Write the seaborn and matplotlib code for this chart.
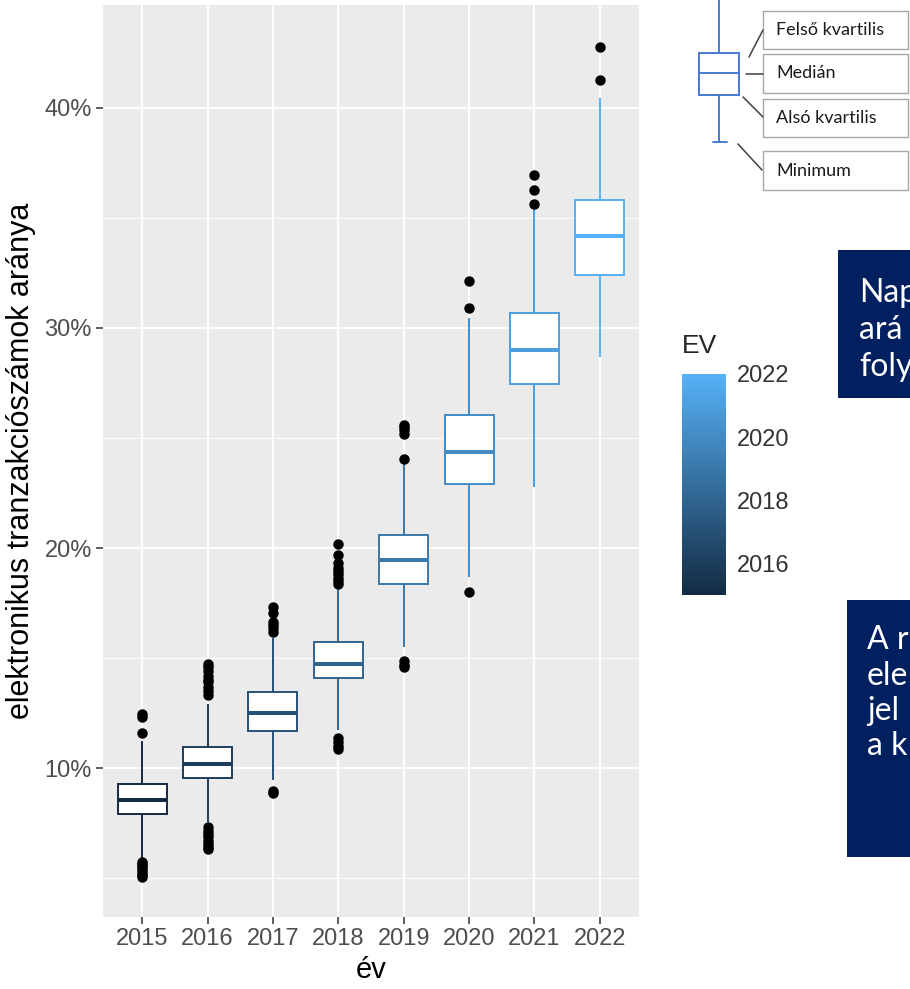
import numpy as np
import pandas as pd
import seaborn as sns
import matplotlib.pyplot as plt
from matplotlib.colors import LinearSegmentedColormap, Normalize
from matplotlib.cm import ScalarMappable
from matplotlib.ticker import FuncFormatter, MultipleLocator
from matplotlib.patches import Rectangle

# Box statistics (percent)
years = [2015, 2016, 2017, 2018, 2019, 2020, 2021, 2022]
q1 = [7.91, 9.55, 11.68, 14.09, 18.35, 22.9, 27.45, 32.41]
median = [8.55, 10.18, 12.5, 14.73, 19.45, 24.36, 29.0, 34.18]
q3 = [9.27, 10.95, 13.45, 15.73, 20.6, 26.05, 30.7, 35.82]
whisker_low = [5.9, 7.55, 9.45, 11.73, 15.5, 18.68, 22.77, 28.68]
whisker_high = [11.25, 12.9, 15.9, 18.15, 23.9, 30.45, 35.5, 40.45]
outliers_low = [
    [5.75, 5.65, 5.55, 5.45, 5.35, 5.25, 5.15, 5.05],
    [7.3, 7.15, 7.0, 6.85, 6.7, 6.55, 6.4, 6.3],
    [8.95, 8.85],
    [11.35, 11.2, 11.0, 10.85],
    [14.85, 14.7, 14.6],
    [18.0],
    [],
    [],
]
outliers_high = [
    [11.6, 12.3, 12.45],
    [13.3, 13.5, 13.7, 13.9, 14.0, 14.2, 14.4, 14.6, 14.75],
    [16.2, 16.35, 16.5, 16.65, 17.05, 17.3],
    [18.35, 18.5, 18.65, 18.8, 18.95, 19.1, 19.3, 19.7, 20.2],
    [24.05, 25.2, 25.35, 25.5, 25.6],
    [30.9, 32.15],
    [35.65, 36.25, 36.95],
    [41.25, 42.75],
]
y_ticks = [10, 20, 30, 40]
cbar_ticks = [2016, 2018, 2020, 2022]

# text fragments that are visible in the (cropped) side boxes
box1_lines = ['Nap', 'ará', 'foly']
box2_lines = ['A r', 'ele', 'jel', 'a k']


def sample_for(i):
    # rebuild a sample whose quartiles, whiskers and outliers match the stats
    below = sorted(outliers_low[i]) + [whisker_low[i]]
    above = [whisker_high[i]] + sorted(outliers_high[i])
    m = max(len(below), len(above)) + 1
    return (below + [q1[i]] * (m + 1 - len(below)) + [median[i]] * m
            + [q3[i]] * m + [q3[i]] * (m - len(above)) + above)


rows = []
for i, yr in enumerate(years):
    for v in sample_for(i):
        rows.append({'EV': yr, 'ev': str(yr), 'arany': v})
df = pd.DataFrame(rows)

sns.set_theme(style='darkgrid', rc={
    'axes.facecolor': '#EBEBEB',
    'grid.color': 'white',
    'grid.linewidth': 1.4,
    'xtick.bottom': True,
    'ytick.left': True,
})
plt.rcParams['font.family'] = ['Liberation Sans', 'DejaVu Sans']

cmap = LinearSegmentedColormap.from_list('ev', ['#132B43', '#56B1F7'])
norm = Normalize(2015, 2022)
order = [str(y) for y in years]

fig = plt.figure(figsize=(9.1, 9.89), dpi=100)
ax = fig.add_axes([103 / 910, 1 - 917 / 989, 536 / 910, 912 / 989])

for yr in years:
    c = cmap(norm(yr))
    sns.boxplot(data=df[df['EV'] == yr], x='ev', y='arany', order=order, ax=ax,
                width=0.75, color='white', linecolor=c, linewidth=1.4,
                showcaps=False,
                medianprops=dict(color=c, linewidth=2.9),
                flierprops=dict(marker='o', markerfacecolor='black',
                                markeredgecolor='black', markersize=6.5))

ax.set_xlim(-0.6, 7.6)
ax.set_ylim(3.23, 44.68)
ax.set_yticks(y_ticks)
ax.yaxis.set_major_formatter(FuncFormatter(lambda v, p: f'{v:.0f}%'))
ax.yaxis.set_minor_locator(MultipleLocator(5))
ax.xaxis.grid(True, which='major', color='white', linewidth=1.4)
ax.yaxis.grid(True, which='major', color='white', linewidth=1.4)
ax.yaxis.grid(True, which='minor', color='white', linewidth=0.7)
ax.set_axisbelow(True)
for s in ax.spines.values():
    s.set_visible(False)
ax.tick_params(which='major', length=5, width=1.1, color='#333333',
               labelcolor='#4D4D4D', labelsize=17, pad=3)
ax.tick_params(which='minor', length=0)
ax.set_xlabel('év', fontsize=21, color='black', labelpad=4)
ax.set_ylabel('elektronikus tranzakciószámok aránya', fontsize=22,
              color='black', labelpad=6)

# colour bar legend
cax = fig.add_axes([682 / 910, 1 - 595 / 989, 44 / 910, 221 / 989])
cb = fig.colorbar(ScalarMappable(norm=norm, cmap=cmap), cax=cax)
cb.set_ticks(cbar_ticks)
cb.outline.set_visible(False)
cax.tick_params(direction='in', length=6, width=1.2, color='white',
                left=True, right=True, labelcolor='#333333', labelsize=17,
                pad=8)
fig.text(682 / 910, 1 - 346 / 989, 'EV', fontsize=19, va='center', ha='left')

# overlay for the explanation sketch and the text boxes
ov = fig.add_axes([0, 0, 1, 1], zorder=5)
ov.set_xlim(0, 910)
ov.set_ylim(989, 0)
ov.axis('off')

blue = '#4A7BD0'
ov.plot([719, 719], [0, 53], color=blue, lw=1.4)
ov.add_patch(Rectangle((699, 53), 40, 42, fill=False, ec=blue, lw=1.4))
ov.plot([699, 739], [73, 73], color=blue, lw=1.4)
ov.plot([719, 719], [95, 142], color=blue, lw=1.4)
ov.plot([713, 727], [142, 142], color=blue, lw=1.4)

labels = [('Felső kvartilis', 11, 38), ('Medián', 54, 39),
          ('Alsó kvartilis', 99, 38), ('Minimum', 151, 39)]
for txt, top, h in labels:
    ov.add_patch(Rectangle((763, top), 145, h, fc='white', ec='#A6A6A6', lw=1))
    ov.text(776, top + h / 2, txt, fontsize=13, va='center', ha='left',
            color='#1A1A1A', family=['Lato', 'DejaVu Sans'])
for (x0, y0), (x1, y1) in [((749, 57), (763, 30)), ((746, 74), (763, 74)),
                           ((743, 97), (763, 117)), ((738, 144), (762, 170))]:
    ov.plot([x0, x1], [y0, y1], color='#404040', lw=1.1)

navy = '#002060'
ov.add_patch(Rectangle((838, 250), 90, 148, fc=navy, ec='none'))
for txt, yy in zip(box1_lines, [293, 330, 367]):
    ov.text(859, yy, txt, fontsize=23, color='white', va='center', ha='left',
            family=['Lato', 'DejaVu Sans'])
ov.add_patch(Rectangle((847, 600), 90, 257, fc=navy, ec='none'))
for txt, yy in zip(box2_lines, [640, 676, 711, 746]):
    ov.text(867, yy, txt, fontsize=23, color='white', va='center', ha='left',
            family=['Lato', 'DejaVu Sans'])

fig.savefig('out.png', dpi=100)
